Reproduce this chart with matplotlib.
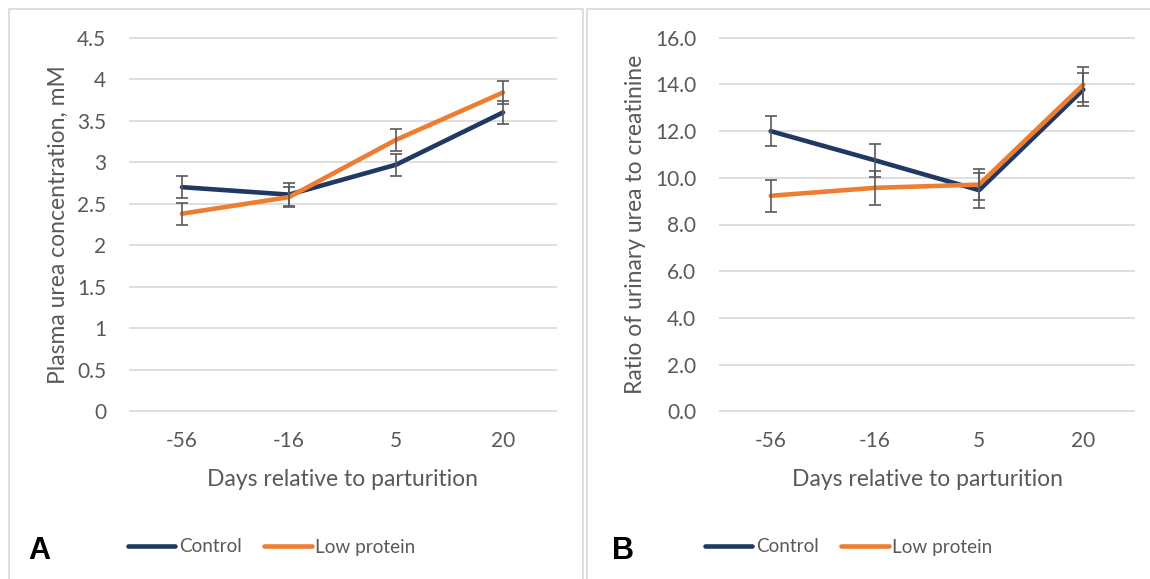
import matplotlib.pyplot as plt
from matplotlib.patches import Rectangle

# days relative to parturition
days = ["-56", "-16", "5", "20"]

# panel A: plasma urea (mM)
urea_control = [2.70, 2.61, 2.97, 3.60]
urea_control_err = [0.135, 0.14, 0.13, 0.14]
urea_low = [2.38, 2.58, 3.27, 3.84]
urea_low_err = [0.135, 0.12, 0.13, 0.14]

# panel B: urinary urea : creatinine
ratio_control = [12.0, 10.75, 9.47, 13.78]
ratio_control_err = [0.64, 0.70, 0.75, 0.72]
ratio_low = [9.23, 9.57, 9.71, 13.99]
ratio_low_err = [0.69, 0.72, 0.66, 0.74]

W, H = 1150, 579
navy = "#1F3864"
orange = "#ED7D31"
grey_txt = "#595959"
grid_col = "#D9D9D9"
tick_fs = 15
label_fs = 16.5
leg_fs = 13.6

plt.rcParams['font.family'] = ['Lato', 'DejaVu Sans']

fig = plt.figure(figsize=(W / 100, H / 100), dpi=100)

# panel frames
for x0, x1 in [(9, 583), (587, 1160)]:
    fig.patches.append(Rectangle((x0 / W, -0.05), (x1 - x0) / W, 1 - 9 / H + 0.05,
                                 transform=fig.transFigure, fill=False,
                                 edgecolor="#D9D9D9", lw=1.2))


def make_panel(left, right, ctrl, ctrl_err, low, low_err, ymax, ystep, fmt, ylabel,
               letter, letter_x, leg_x, ylab_x):
    ax = fig.add_axes([left / W, 1 - 412 / H, (right - left) / W, (412 - 37) / H])
    x = range(len(days))
    ax.plot(x, ctrl, color=navy, lw=3.3, solid_capstyle='round', label="Control", zorder=3)
    ax.plot(x, low, color=orange, lw=3.3, solid_capstyle='round', label="Low protein", zorder=3)
    for vals, errs in [(ctrl, ctrl_err), (low, low_err)]:
        ax.errorbar(x, vals, yerr=errs, fmt='none', ecolor=grey_txt, elinewidth=1.2,
                    capsize=4.5, capthick=1.2, zorder=4)
    ax.set_xlim(-0.5, len(days) - 0.5)
    ax.set_ylim(-ymax * 0.002, ymax * 1.002)
    ticks = [i * ystep for i in range(int(round(ymax / ystep)) + 1)]
    ax.set_yticks(ticks)
    ax.set_yticklabels([fmt(t) for t in ticks])
    ax.set_xticks(list(x))
    ax.set_xticklabels(days)
    ax.grid(axis='y', color=grid_col, lw=1.2)
    ax.set_axisbelow(True)
    for s in ax.spines.values():
        s.set_visible(False)
    ax.tick_params(length=0, labelsize=tick_fs, labelcolor=grey_txt)
    ax.tick_params(axis='x', pad=14)
    ax.tick_params(axis='y', pad=16)
    ax.set_xlabel("Days relative to parturition", fontsize=label_fs, color=grey_txt)
    ax.set_ylabel(ylabel, fontsize=label_fs, color=grey_txt)
    ax.xaxis.set_label_coords(0.5, (412 - 480) / 375)
    ax.xaxis.label.set_va('center')
    ax.yaxis.set_label_coords((ylab_x - left) / (right - left), 0.5)
    ax.yaxis.label.set_va('center')
    ax.legend(loc='center left', bbox_to_anchor=(leg_x / W, 1 - 547 / H),
              bbox_transform=fig.transFigure, ncol=2, frameon=False, fontsize=leg_fs,
              handlelength=2.5, handletextpad=0.2, columnspacing=1.2,
              borderpad=0, borderaxespad=0, labelcolor=grey_txt)
    fig.text(letter_x / W, 1 - 551 / H, letter, fontsize=22, fontweight='bold',
             ha='left', va='center', family=['Liberation Sans', 'DejaVu Sans'])
    return ax


make_panel(128.5, 556.5, urea_control, urea_control_err, urea_low, urea_low_err,
           4.5, 0.5, lambda v: f"{v:g}", "Plasma urea concentration, mM", "A", 28, 128, 58)
make_panel(718.6, 1135.4, ratio_control, ratio_control_err, ratio_low, ratio_low_err,
           16.0, 2.0, lambda v: f"{v:.1f}", "Ratio of urinary urea to creatinine", "B", 612, 705, 636)

fig.savefig("out.png", dpi=100)
